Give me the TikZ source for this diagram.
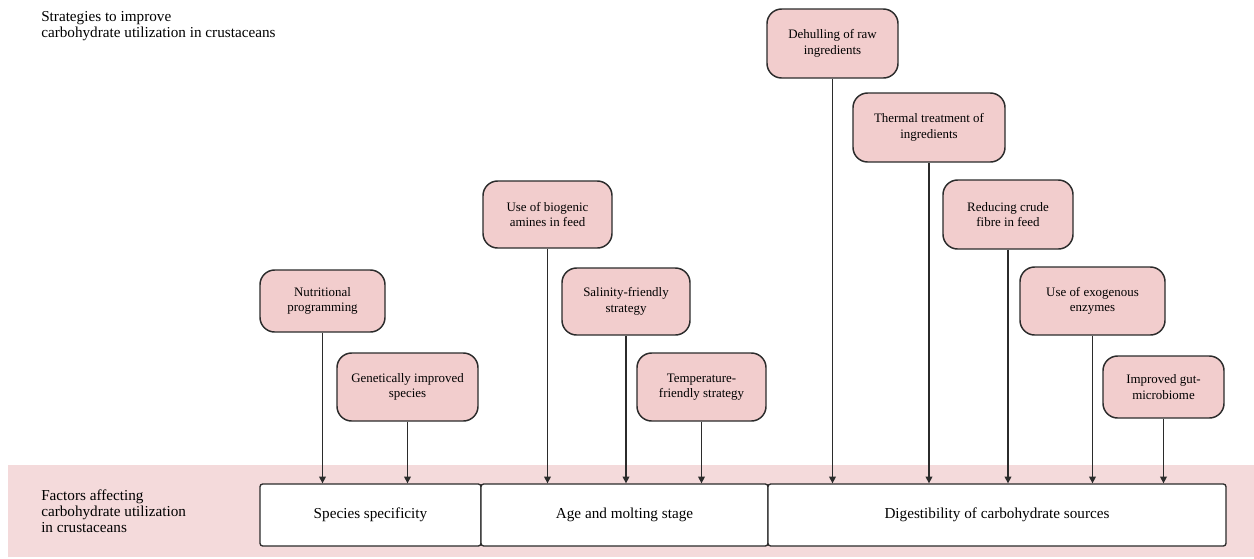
\documentclass[tikz,border=0pt]{standalone}
\usepackage{fontspec}
\setmainfont{Liberation Serif}
\usepackage{xcolor}
\usetikzlibrary{arrows.meta, positioning, calc}
\definecolor{bandpink}{HTML}{F4DADB}
\definecolor{boxpink}{HTML}{F2CDCD}
\definecolor{edgegrey}{HTML}{2B2B2B}
\tikzset{
    strategy/.style={
        rectangle,
        rounded corners=11pt,
        line width=1.1pt,
        draw=edgegrey,
        fill=boxpink,
        align=center,
        font=\fontsize{9.7}{11.5}\selectfont,
        inner sep=0pt,
    },
    factor/.style={
        rectangle,
        rounded corners=2pt,
        line width=1pt,
        draw=edgegrey,
        fill=white,
        font=\fontsize{11.4}{13.5}\selectfont,
        minimum height=46.5pt,
        inner sep=0pt,
    },
    arr/.style={
        -{Triangle[width=5pt,length=5pt]},
        line width=1pt,
        draw=edgegrey,
    },
}

\begin{document}
\begin{tikzpicture}[x=0.75pt, y=-0.75pt]
      \useasboundingbox (0,0) rectangle (1254,558);

      % background band
      \fill[bandpink] (8,465) rectangle (1254,557);

      \node[anchor=north west, align=left, inner sep=0pt, font=\fontsize{11.4}{12.2}\selectfont] (title) at (41,11)
        {Strategies to improve\\carbohydrate utilization in crustaceans};
      \node[anchor=west, align=left, inner sep=0pt, font=\fontsize{11.4}{12.2}\selectfont] (factors) at (41,511)
        {Factors affecting\\carbohydrate utilization\\in crustaceans};

      % factors
      \node[factor, minimum width=165.75pt] (spec) at (370.5,515) {Species specificity};
      \node[factor, minimum width=215.25pt] (age) at (624.5,515) {Age and molting stage};
      \node[factor, minimum width=343.5pt] (dig) at (997,515) {Digestibility of carbohydrate sources};

      % strategies
      \node[strategy, minimum width=93.75pt, minimum height=46.5pt] (nut) at (322.5,301) {Nutritional\\programming};
      \node[strategy, minimum width=105.75pt, minimum height=51pt] (gen) at (407.5,387) {Genetically improved\\species};
      \node[strategy, minimum width=96.75pt, minimum height=50.25pt] (bio) at (547.5,214.5) {Use of biogenic\\amines in feed};
      \node[strategy, minimum width=96pt, minimum height=50.25pt] (sal) at (626,301.5) {Salinity-friendly\\strategy};
      \node[strategy, minimum width=96.75pt, minimum height=51pt] (temp) at (701.5,387) {Temperature-\\friendly strategy};
      \node[strategy, minimum width=98.25pt, minimum height=51.75pt] (dehull) at (832.5,43.5) {Dehulling of raw\\ingredients};
      \node[strategy, minimum width=114pt, minimum height=51.75pt] (therm) at (929,127.5) {Thermal treatment of\\ingredients};
      \node[strategy, minimum width=97.5pt, minimum height=51.75pt] (fibre) at (1008,214.5) {Reducing crude\\fibre in feed};
      \node[strategy, minimum width=108.75pt, minimum height=51pt] (enz) at (1092.5,301) {Use of exogenous\\enzymes};
      \node[strategy, minimum width=90.75pt, minimum height=46.5pt] (gut) at (1163.5,387) {Improved gut-\\microbiome};

      % connectors
      \foreach \s/\f in {nut/spec, gen/spec, bio/age, sal/age, temp/age,
                         dehull/dig, therm/dig, fibre/dig, enz/dig, gut/dig}
        \draw[arr] (\s.south) -- (\s.south |- \f.north);

    \end{tikzpicture}
\end{document}
